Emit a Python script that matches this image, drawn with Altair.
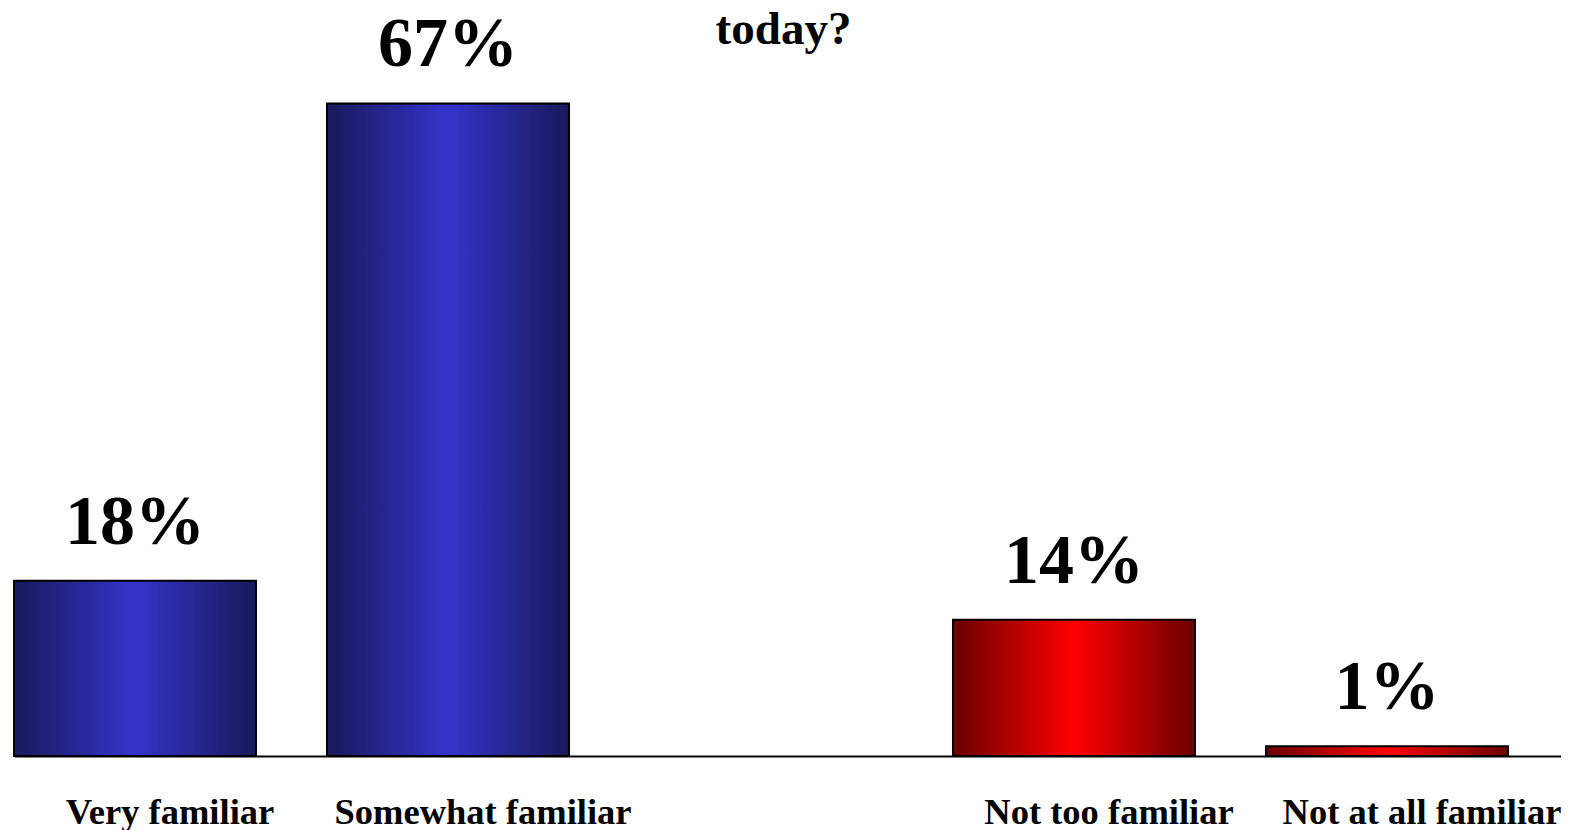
import altair as alt
import pandas as pd

# Data
categories = ["Very familiar", "Somewhat familiar", " ", "Not too familiar", "Not at all familiar"]
values = [18, 67, None, 14, 1]
groups = ["familiar", "familiar", None, "unfamiliar", "unfamiliar"]
title_text = "today?"

rows = [
    {"category": c, "value": v, "group": g}
    for c, v, g in zip(categories, values, groups)
    if v is not None
]
df = pd.DataFrame(rows)

FONT = "Liberation Serif"

blue_grad = alt.LinearGradient(
    gradient="linear",
    stops=[
        alt.GradientStop(offset=0, color="#19195a"),
        alt.GradientStop(offset=0.5, color="#3434cc"),
        alt.GradientStop(offset=1, color="#19195a"),
    ],
    x1=0, x2=1, y1=0, y2=0,
)
red_grad = alt.LinearGradient(
    gradient="linear",
    stops=[
        alt.GradientStop(offset=0, color="#6a0000"),
        alt.GradientStop(offset=0.5, color="#ff0000"),
        alt.GradientStop(offset=1, color="#6a0000"),
    ],
    x1=0, x2=1, y1=0, y2=0,
)

x_enc = alt.X(
    "category:N",
    sort=categories,
    scale=alt.Scale(domain=categories, paddingInner=0.2268, paddingOuter=0.0847, align=0),
    axis=alt.Axis(
        title=None,
        labelAngle=0,
        labelFont=FONT,
        labelFontSize=36.5,
        labelFontWeight="bold",
        labelColor="black",
        labelLimit=500,
        labelOverlap=False,
        labelOffset=35,
        labelBaseline="alphabetic",
        labelPadding=67,
        ticks=False,
        tickSize=0,
        domainColor="black",
        domainWidth=2,
        grid=False,
    ),
)
y_enc = alt.Y("value:Q", scale=alt.Scale(domain=[0, 76.8], nice=False, zero=True), axis=None)

base = alt.Chart(df)

bars_blue = base.transform_filter(alt.datum.group == "familiar").mark_bar(
    color=blue_grad, stroke="black", strokeWidth=2
).encode(x=x_enc, y=y_enc)

bars_red = base.transform_filter(alt.datum.group == "unfamiliar").mark_bar(
    color=red_grad, stroke="black", strokeWidth=2
).encode(x=x_enc, y=y_enc)

labels = base.transform_calculate(label="datum.value + '%'").mark_text(
    font=FONT, fontSize=70, fontWeight="bold", color="black",
    baseline="alphabetic", align="center", dy=-37,
).encode(x=x_enc, y=y_enc, text="label:N")

chart = (
    alt.layer(bars_blue, bars_red, labels)
    .properties(
        width=1547,
        height=748,
        title=alt.TitleParams(
            text=title_text,
            font=FONT,
            fontSize=47,
            fontWeight="bold",
            color="black",
            anchor="middle",
            baseline="alphabetic",
            offset=-83,
            dx=-4,
        ),
        autosize=alt.AutoSizeParams(type="none"),
        padding={"left": 6, "top": 0, "right": 0, "bottom": 74},
    )
    .configure_view(strokeWidth=0)
)

chart.save("out.html", embed_options={"renderer": "svg", "actions": False})
